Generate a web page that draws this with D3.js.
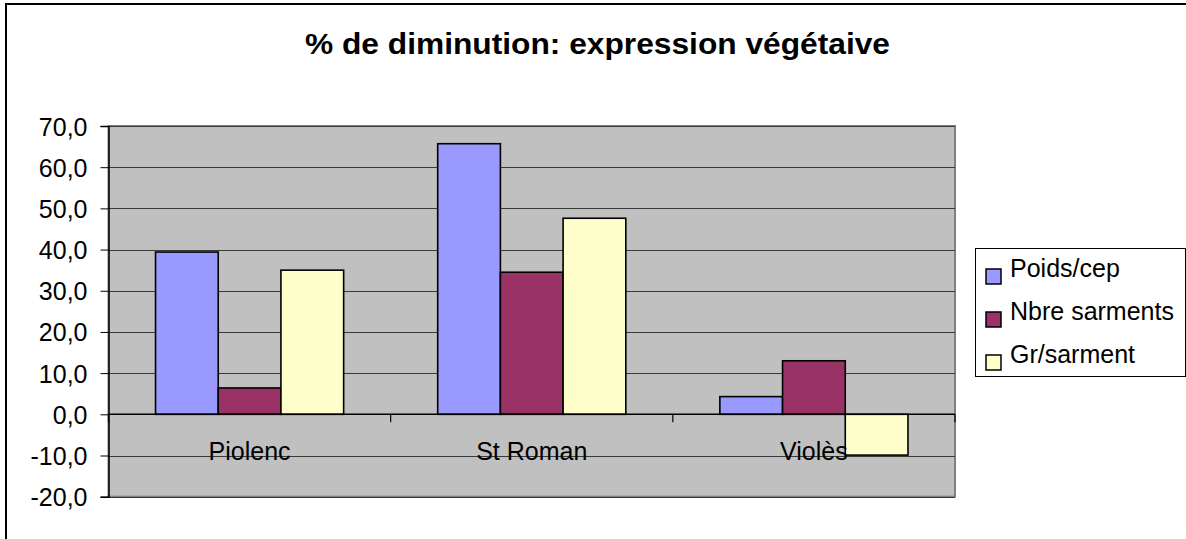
<!DOCTYPE html>
<html>
<head>
<meta charset="utf-8">
<script src="https://cdn.jsdelivr.net/npm/d3@7"></script>
<style>
    body { margin: 0; background: #fff; }
    svg { display: block; font-family: "Liberation Sans", Arial, sans-serif; }
</style>
</head>
<body>
<svg id="viz"></svg>
<script>
    // data
    let categories = ['Piolenc', 'St Roman', 'Violès']
    let seriesNames = ['Poids/cep', 'Nbre sarments', 'Gr/sarment']
    let poidsCep = [39.4, 65.7, 4.3]
    let nbreSarments = [6.4, 34.5, 13.0]
    let grSarment = [35.0, 47.6, -9.9]
    let yTicks = [-20, -10, 0, 10, 20, 30, 40, 50, 60, 70]
    let colors = ['#9999ff', '#993366', '#ffffcc']

    let seriesValues = [poidsCep, nbreSarments, grSarment]
    let W = 1186, H = 539
    let plot = { left: 108.5, right: 955, top: 126, bottom: 496.7 }

    let svg = d3.select('#viz').attr('width', W).attr('height', H)

    // outer chart border
    svg.append('rect')
        .attr('x', 6).attr('y', 4)
        .attr('width', W + 10).attr('height', H + 10)
        .attr('fill', '#fff').attr('stroke', '#000').attr('stroke-width', 2)

    svg.append('text')
        .attr('x', 597.5).attr('y', 53.5)
        .attr('text-anchor', 'middle')
        .attr('font-size', 29).attr('font-weight', 'bold')
        .attr('textLength', 585).attr('lengthAdjust', 'spacingAndGlyphs')
        .text('% de diminution: expression végétaive')

    let yScale = d3.scaleLinear().domain([-20, 70]).range([plot.bottom, plot.top])
    let x0 = d3.scaleBand().domain(categories).range([plot.left, plot.right]).padding(0)
    let x1 = d3.scaleBand().domain(seriesNames)
        .range([x0.bandwidth() / 6, x0.bandwidth() * 5 / 6]).padding(0)

    // plot area
    svg.append('rect')
        .attr('x', plot.left).attr('y', plot.top)
        .attr('width', plot.right - plot.left).attr('height', plot.bottom - plot.top)
        .attr('fill', '#c0c0c0').attr('stroke', '#808080').attr('stroke-width', 2)

    svg.append('g').selectAll('line')
        .data(yTicks.filter(d => d !== 0))
        .join('line')
        .attr('x1', plot.left).attr('x2', plot.right)
        .attr('y1', d => Math.round(yScale(d)) + 0.5).attr('y2', d => Math.round(yScale(d)) + 0.5)
        .attr('stroke', '#3a3a3a').attr('stroke-width', 1)

    // bars
    let gCat = svg.append('g').selectAll('g')
        .data(categories)
        .join('g')
        .attr('transform', d => 'translate(' + x0(d) + ',0)')
    gCat.selectAll('rect')
        .data((c, ci) => seriesNames.map((s, si) => ({ s, si, v: seriesValues[si][ci] })))
        .join('rect')
        .attr('x', d => x1(d.s))
        .attr('width', x1.bandwidth())
        .attr('y', d => yScale(Math.max(0, d.v)))
        .attr('height', d => Math.abs(yScale(d.v) - yScale(0)))
        .attr('fill', d => colors[d.si])
        .attr('stroke', '#000').attr('stroke-width', 1.6)

    // y axis
    let yAxis = d3.axisLeft(yScale)
        .tickValues(yTicks)
        .tickSize(8)
        .tickPadding(13)
        .tickFormat(d => d.toFixed(1).replace('.', ','))
    let gY = svg.append('g')
        .attr('transform', 'translate(' + plot.left + ',0)')
        .call(yAxis)
    gY.select('.domain').attr('stroke', '#000').attr('stroke-width', 1.5)
    gY.selectAll('.tick line').attr('stroke', '#000')
    gY.selectAll('.tick text')
        .attr('font-size', 25).attr('font-family', '"Liberation Sans", Arial, sans-serif')
        .attr('fill', '#000').attr('dy', '0.36em')

    // category axis on zero line
    let zeroY = yScale(0)
    svg.append('line')
        .attr('x1', plot.left).attr('x2', plot.right)
        .attr('y1', zeroY).attr('y2', zeroY)
        .attr('stroke', '#000').attr('stroke-width', 1.5)
    let boundaries = categories.map(c => x0(c)).concat([plot.right])
    svg.append('g').selectAll('line')
        .data(boundaries)
        .join('line')
        .attr('x1', d => d).attr('x2', d => d)
        .attr('y1', zeroY).attr('y2', zeroY + 8)
        .attr('stroke', '#000').attr('stroke-width', 1.2)
    svg.append('g').selectAll('text')
        .data(categories)
        .join('text')
        .attr('x', d => x0(d) + x0.bandwidth() / 2)
        .attr('y', 460)
        .attr('text-anchor', 'middle')
        .attr('font-size', 25)
        .text(d => d)

    // legend
    let legend = svg.append('g')
    legend.append('rect')
        .attr('x', 975.5).attr('y', 248.5)
        .attr('width', 210).attr('height', 128)
        .attr('fill', '#fff').attr('stroke', '#000').attr('stroke-width', 1)
    let items = legend.selectAll('g.item')
        .data(seriesNames)
        .join('g')
        .classed('item', true)
        .attr('transform', (d, i) => 'translate(0,' + (277 + i * 43) + ')')
    items.append('rect')
        .attr('x', 986).attr('y', -8)
        .attr('width', 15).attr('height', 15)
        .attr('fill', (d, i) => colors[i])
        .attr('stroke', '#000').attr('stroke-width', 1.5)
    items.append('text')
        .attr('x', 1010).attr('y', 0)
        .attr('font-size', 25)
        .text(d => d)
</script>
</body>
</html>
